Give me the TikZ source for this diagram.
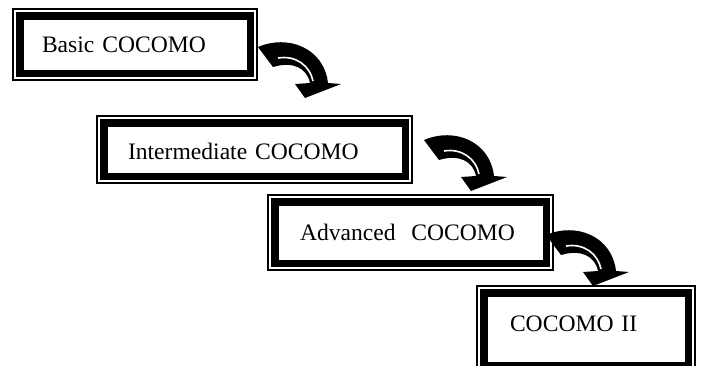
\documentclass[tikz,border=0pt]{standalone}
\usepackage{fontspec}
\setmainfont{Liberation Serif}
\begin{document}
\begin{tikzpicture}[x=1pt,y=-1pt,
  cbox/.style={draw=black, line width=1.3pt, inner ysep=0pt, align=left,
    font=\fontsize{23.6}{28}\selectfont,
    path picture={\draw[line width=7.8pt]
      ([xshift=6.6pt,yshift=-6.6pt]path picture bounding box.north west) rectangle
      ([xshift=-6.6pt,yshift=6.6pt]path picture bounding box.south east);}},
  carrow/.pic={
    \fill[black] (258,47) .. controls (288,34) and (324,48) .. (328,83)
      -- (341,84) -- (305,98) -- (295,84) -- (310,83)
      .. controls (307,68) and (293,61) .. (273,67) -- cycle;
    \draw[white, line width=1.6pt] (278,58) .. controls (296,55) and (310,66) .. (313,81);
  }]
\useasboundingbox (0,0) rectangle (702,365);
\clip (0,0) rectangle (702,365);

\node[cbox, minimum width=244pt, minimum height=71pt, inner xsep=29pt, text width=186pt]
  (b1) at (135,44.5) {Basic COCOMO};
\node[cbox, minimum width=315pt, minimum height=67pt, inner xsep=31pt, text width=253pt, text height=21pt]
  (b2) at (254.5,149.5) {Intermediate COCOMO};
\node[cbox, minimum width=285pt, minimum height=75pt, inner xsep=32pt, text width=221pt]
  (b3) at (410.5,232.5) {Advanced\ \ COCOMO};
\node[cbox, minimum width=218pt, minimum height=86pt, inner xsep=33pt, text width=152pt, text depth=10pt]
  (b4) at (586,329) {COCOMO II};

\pic (a1) at (0,0) {carrow};
\pic (a2) at (166,93) {carrow};
\pic (a3) at (288,188) {carrow};
\end{tikzpicture}
\end{document}
